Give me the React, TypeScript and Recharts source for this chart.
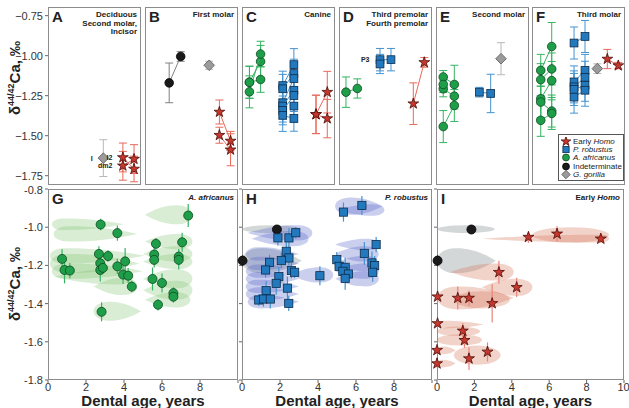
import React from 'react';
import { ScatterChart, Scatter, XAxis, YAxis, ErrorBar, ReferenceArea, LabelList, Symbols } from 'recharts';

const FONT = '"Liberation Sans", Arial, Helvetica, sans-serif';

type Sp = 'homo' | 'rob' | 'afr' | 'ind' | 'gor';
type Pt = [number, number, number, string?];
type Group = { sp: Sp; pts: Pt[] };

const SPECIES: Record<Sp, { shape: string; fill: string; edge: string; line: string }> = {
  homo: { shape: 'star', fill: '#c8372d', edge: '#4a0d08', line: '#e8695a' },
  rob: { shape: 'square', fill: '#2379bd', edge: '#0c2c4c', line: '#4593d0' },
  afr: { shape: 'circle', fill: '#1f9e4a', edge: '#0a4a1e', line: '#35b362' },
  ind: { shape: 'circle', fill: '#1a1a1a', edge: '#000000', line: '#808080' },
  gor: { shape: 'diamond', fill: '#9b9b9b', edge: '#555555', line: '#b8b8b8' },
};

// top row: x = slot inside the panel (0-10), y = δ44/42Ca, e = error, optional tooth label
const PANEL_A: Group[] = [
  { sp: 'gor', pts: [[5.95, -1.64, 0.115, 'I']] },
  { sp: 'homo', pts: [[8.05, -1.636, 0.09, 'I2'], [9.25, -1.708, 0.08]] },
  { sp: 'homo', pts: [[8.05, -1.688, 0.09, 'dm2'], [9.25, -1.646, 0.09]] },
];

const PANEL_B: Group[] = [
  { sp: 'ind', pts: [[2.6, -1.17, 0.124], [3.84, -1.005, 0.03]] },
  { sp: 'gor', pts: [[6.9, -1.06, 0.025]] },
  { sp: 'homo', pts: [[8.0, -1.352, 0.075], [9.2, -1.533, 0.06]] },
  { sp: 'homo', pts: [[8.0, -1.497, 0.05], [9.2, -1.588, 0.1]] },
];

const PANEL_C: Group[] = [
  { sp: 'afr', pts: [[0.8, -1.166, 0.1], [2.0, -1.036, 0.1]] },
  { sp: 'afr', pts: [[0.8, -1.226, 0.1], [2.0, -0.99, 0.08]] },
  { sp: 'afr', pts: [[0.8, -1.166, 0.1], [2.0, -1.149, 0.08]] },
  { sp: 'rob', pts: [[4.38, -1.187, 0.09], [5.58, -1.056, 0.1]] },
  { sp: 'rob', pts: [[4.38, -1.207, 0.09], [5.58, -1.112, 0.09]] },
  { sp: 'rob', pts: [[4.38, -1.294, 0.1], [5.58, -1.143, 0.1]] },
  { sp: 'rob', pts: [[4.38, -1.315, 0.1], [5.58, -1.216, 0.09]] },
  { sp: 'rob', pts: [[4.38, -1.342, 0.09], [5.58, -1.249, 0.1]] },
  { sp: 'rob', pts: [[4.38, -1.373, 0.1], [5.58, -1.392, 0.08]] },
  { sp: 'rob', pts: [[5.58, -1.315, 0.1]] },
  { sp: 'homo', pts: [[7.96, -1.367, 0.12], [9.17, -1.228, 0.13]] },
  { sp: 'homo', pts: [[7.96, -1.367, 0.12], [9.17, -1.393, 0.12]] },
];

const PANEL_D: Group[] = [
  { sp: 'afr', pts: [[0.75, -1.228, 0.095], [1.97, -1.205, 0.06]] },
  { sp: 'rob', pts: [[4.41, -1.025, 0.07, 'P3'], [5.59, -1.025, 0.07]] },
  { sp: 'rob', pts: [[4.41, -1.052, 0.06]] },
  { sp: 'homo', pts: [[7.99, -1.3, 0.13], [9.17, -1.042, 0.03]] },
];

const PANEL_E: Group[] = [
  { sp: 'afr', pts: [[0.78, -1.133, 0.04], [1.97, -1.18, 0.12]] },
  { sp: 'afr', pts: [[0.78, -1.207, 0.05], [1.97, -1.253, 0.08]] },
  { sp: 'afr', pts: [[0.78, -1.443, 0.1], [1.97, -1.311, 0.1]] },
  { sp: 'afr', pts: [[0.78, -1.18, 0.05]] },
  { sp: 'rob', pts: [[4.66, -1.228, 0.03], [5.88, -1.236, 0.12]] },
  { sp: 'gor', pts: [[6.99, -1.019, 0.1]] },
];

const PANEL_F: Group[] = [
  { sp: 'afr', pts: [[0.94, -1.092, 0.1], [2.12, -0.943, 0.15]] },
  { sp: 'afr', pts: [[0.94, -1.15, 0.1], [2.12, -1.083, 0.1]] },
  { sp: 'afr', pts: [[0.94, -1.269, 0.12], [2.12, -1.156, 0.12]] },
  { sp: 'afr', pts: [[0.94, -1.29, 0.1], [2.12, -1.346, 0.1]] },
  { sp: 'afr', pts: [[0.94, -1.404, 0.1], [2.12, -1.361, 0.1]] },
  { sp: 'rob', pts: [[4.52, -0.921, 0.1], [5.7, -0.88, 0.1]] },
  { sp: 'rob', pts: [[4.52, -1.164, 0.1], [5.7, -1.092, 0.1]] },
  { sp: 'rob', pts: [[4.52, -1.195, 0.1], [5.7, -1.135, 0.1]] },
  { sp: 'rob', pts: [[4.52, -1.211, 0.1], [5.7, -1.185, 0.1]] },
  { sp: 'rob', pts: [[4.52, -1.259, 0.1], [5.7, -1.216, 0.1]] },
  { sp: 'gor', pts: [[7.02, -1.081, 0.03]] },
  { sp: 'homo', pts: [[8.1, -1.021, 0.06], [9.28, -1.062, 0.02]] },
];

const TOP_TICKS = [-0.75, -1.0, -1.25, -1.5, -1.75];

// bottom row: dental age (years), δ44/42Ca, error
const G_AFR: Pt[] = [
  [0.74, -1.166, 0.05], [0.87, -1.224, 0.07], [1.15, -1.227, 0.04], [2.77, -0.986, 0.03],
  [2.68, -1.14, 0.04], [2.75, -1.189, 0.04], [2.75, -1.224, 0.06], [2.89, -1.213, 0.03],
  [3.16, -1.151, 0.03], [3.65, -1.031, 0.04], [3.65, -1.205, 0.04], [4.06, -1.179, 0.07],
  [3.95, -1.248, 0.05], [4.22, -1.254, 0.04], [4.41, -1.311, 0.03], [2.82, -1.443, 0.05],
  [5.5, -1.271, 0.06], [5.59, -1.143, 0.04], [5.59, -1.171, 0.04], [5.68, -1.087, 0.03],
  [6.0, -1.292, 0.05], [5.79, -1.406, 0.03], [6.6, -1.345, 0.03], [6.6, -1.364, 0.03],
  [7.38, -0.939, 0.06], [7.06, -1.079, 0.05], [6.88, -1.154, 0.04], [6.88, -1.171, 0.05],
];

const H_ROB: Pt[] = [
  [6.31, -0.886, 0.05], [5.34, -0.921, 0.05], [1.89, -1.056, 0.04], [2.47, -1.056, 0.05],
  [2.83, -1.029, 0.03], [2.33, -1.126, 0.05], [2.47, -1.161, 0.04], [1.45, -1.184, 0.04],
  [2.07, -1.175, 0.04], [1.24, -1.224, 0.04], [2.6, -1.227, 0.04], [2.77, -1.236, 0.03],
  [1.94, -1.259, 0.05], [1.8, -1.294, 0.06], [1.27, -1.332, 0.05], [2.39, -1.319, 0.06],
  [0.88, -1.381, 0.03], [1.13, -1.376, 0.04], [1.49, -1.376, 0.05], [2.46, -1.399, 0.04],
  [4.1, -1.254, 0.05], [4.99, -1.17, 0.04], [5.11, -1.205, 0.05], [5.43, -1.21, 0.05],
  [5.31, -1.231, 0.05], [5.6, -1.245, 0.04], [5.43, -1.268, 0.06], [6.44, -1.137, 0.06],
  [7.06, -1.091, 0.04], [6.84, -1.187, 0.06], [6.98, -1.201, 0.05], [6.88, -1.236, 0.05],
];

const IND_PTS: Pt[] = [[1.84, -1.012, 0.02], [0.03, -1.175, 0.03]];

const I_HOMO: Pt[] = [
  [4.89, -1.052, 0.03], [6.42, -1.035, 0.04], [8.76, -1.061, 0.02], [3.31, -1.236, 0.06],
  [4.26, -1.315, 0.05], [0.03, -1.364, 0.03], [1.11, -1.371, 0.06], [1.71, -1.371, 0.04],
  [2.95, -1.399, 0.1], [0.03, -1.504, 0.02], [1.38, -1.543, 0.04], [1.47, -1.592, 0.04],
  [0.0, -1.644, 0.02], [2.7, -1.653, 0.05], [1.71, -1.688, 0.06], [0.0, -1.714, 0.02],
];

// formation ranges: start age, end age, δ44/42Ca centre, half-height, pointed end
type Blob = [number, number, number, number, 'l' | 'r' | 'e'];

const G_BLOBS: Blob[] = [
  [0.2, 4.0, -0.985, 0.03, 'r'], [0.3, 4.7, -1.035, 0.04, 'r'],
  [0.1, 5.1, -1.15, 0.04, 'r'], [0.1, 4.8, -1.19, 0.05, 'r'], [0.2, 5.0, -1.23, 0.04, 'r'],
  [0.3, 4.5, -1.26, 0.04, 'l'], [2.4, 4.7, -1.31, 0.045, 'l'], [2.4, 4.9, -1.44, 0.05, 'r'],
  [5.1, 7.6, -0.935, 0.05, 'l'], [5.1, 7.6, -1.075, 0.04, 'l'], [5.0, 7.6, -1.14, 0.04, 'l'],
  [5.0, 7.6, -1.18, 0.04, 'l'], [5.0, 7.6, -1.27, 0.05, 'l'], [5.0, 7.6, -1.33, 0.05, 'l'],
  [5.1, 7.5, -1.38, 0.04, 'l'],
];

const H_BLOBS: Blob[] = [
  [4.9, 7.4, -0.89, 0.045, 'r'], [5.0, 7.5, -0.91, 0.03, 'l'],
  [0.3, 3.7, -1.03, 0.04, 'l'], [0.5, 3.5, -1.06, 0.04, 'l'],
  [0.2, 3.0, -1.14, 0.035, 'r'], [0.2, 3.0, -1.19, 0.035, 'r'], [0.2, 3.0, -1.23, 0.035, 'r'],
  [0.2, 3.0, -1.27, 0.035, 'r'], [0.2, 3.0, -1.31, 0.035, 'r'], [0.2, 3.0, -1.35, 0.035, 'r'],
  [0.3, 3.0, -1.39, 0.035, 'r'], [2.6, 4.8, -1.25, 0.04, 'l'],
  [4.9, 7.2, -1.09, 0.03, 'l'], [4.9, 7.2, -1.14, 0.04, 'l'], [4.9, 7.2, -1.19, 0.04, 'l'],
  [4.9, 7.2, -1.23, 0.04, 'l'], [4.9, 7.2, -1.27, 0.04, 'l'],
];

const IND_BLOBS: Blob[] = [
  [0.0, 3.1, -1.01, 0.02, 'e'], [0.0, 3.15, -1.175, 0.065, 'r'],
];

const I_BLOBS: Blob[] = [
  [5.1, 9.2, -1.04, 0.04, 'e'], [2.4, 9.2, -1.06, 0.02, 'l'],
  [0.7, 4.1, -1.235, 0.045, 'l'], [2.4, 5.1, -1.315, 0.045, 'l'],
  [0.0, 4.1, -1.37, 0.06, 'r'], [0.9, 3.9, -1.38, 0.045, 'e'],
  [0.0, 2.5, -1.51, 0.02, 'r'], [0.0, 2.3, -1.545, 0.025, 'e'], [0.0, 2.4, -1.59, 0.03, 'e'],
  [0.0, 1.0, -1.645, 0.02, 'r'], [0.9, 3.4, -1.67, 0.05, 'e'], [0.0, 1.0, -1.714, 0.02, 'r'],
];

const BOT_TICKS = [-1.8, -1.6, -1.4, -1.2, -1.0, -0.8];
const AGE_TICKS = [0, 2, 4, 6, 8, 10];

const TOP_X = [48, 145, 242, 339, 436, 532];
const TOP_W = 93;
const TOP_Y = 7;
const TOP_H = 178;
const BOT = [
  { x: 48, w: 190 },
  { x: 242, w: 190 },
  { x: 437, w: 187 },
];
const BOT_Y = 189;
const BOT_H = 191;

const toRows = (pts: Pt[]) => pts.map(([x, y, e, lab]) => ({ x, y, e, lab }));

const mark = (sp: Sp, k = 1) => (p: any) => {
  const { cx, cy } = p;
  const s = SPECIES[sp];
  if (cx == null || cy == null) return <g />;
  if (s.shape === 'circle') {
    return <circle cx={cx} cy={cy} r={4.3 * k} fill={s.fill} stroke={s.edge} strokeWidth={0.8} />;
  }
  if (s.shape === 'square') {
    const h = 3.9 * k;
    return <rect x={cx - h} y={cy - h} width={2 * h} height={2 * h} fill={s.fill} stroke={s.edge} strokeWidth={0.8} />;
  }
  if (s.shape === 'diamond') {
    const h = 5.3 * k;
    return (
      <polygon
        points={`${cx},${cy - h} ${cx + h},${cy} ${cx},${cy + h} ${cx - h},${cy}`}
        fill={s.fill}
        stroke={s.edge}
        strokeWidth={0.8}
      />
    );
  }
  return <Symbols cx={cx} cy={cy} type="star" size={36 * k} fill={s.fill} stroke={s.edge} strokeWidth={0.8} />;
};

const blobShape = (tip: string, fill: string) => (p: any) => {
  const { x, y, width: w, height: h } = p;
  if (x == null || !w || !h) return <g />;
  const cy = y + h / 2;
  if (tip === 'e') {
    return <ellipse cx={x + w / 2} cy={cy} rx={w / 2} ry={h / 2} fill={fill} />;
  }
  const r = Math.min(w * 0.3, h * 0.9);
  let d;
  if (tip === 'r') {
    const a = x + r;
    d = `M ${x + w} ${cy} C ${a + (w - r) * 0.5} ${y}, ${a + (w - r) * 0.2} ${y}, ${a} ${y} ` +
      `A ${r} ${h / 2} 0 0 0 ${a} ${y + h} ` +
      `C ${a + (w - r) * 0.2} ${y + h}, ${a + (w - r) * 0.5} ${y + h}, ${x + w} ${cy} Z`;
  } else {
    const a = x + w - r;
    d = `M ${x} ${cy} C ${x + (w - r) * 0.5} ${y}, ${x + (w - r) * 0.8} ${y}, ${a} ${y} ` +
      `A ${r} ${h / 2} 0 0 1 ${a} ${y + h} ` +
      `C ${x + (w - r) * 0.8} ${y + h}, ${x + (w - r) * 0.5} ${y + h}, ${x} ${cy} Z`;
  }
  return <path d={d} fill={fill} />;
};

const abs = (left: number, top: number, extra: React.CSSProperties = {}): React.CSSProperties => ({
  position: 'absolute',
  left,
  top,
  ...extra,
});

function Box({ x, y, w, h }: { x: number; y: number; w: number; h: number }) {
  return <div style={abs(x, y, { width: w, height: h, border: '1.3px solid #8c8c8c', boxSizing: 'border-box' })} />;
}

function TopPanel({ i, groups, letter, title, axis }: { i: number; groups: Group[]; letter: string; title: string[]; axis?: boolean }) {
  const x0 = TOP_X[i];
  const yw = axis ? 48 : 0;
  return (
    <>
      <Box x={x0} y={TOP_Y} w={TOP_W} h={TOP_H} />
      <div style={abs(x0 - yw, TOP_Y)}>
        <ScatterChart width={TOP_W + yw} height={TOP_H} margin={{ top: 0, right: 0, bottom: 0, left: 0 }}>
          <XAxis type="number" dataKey="x" domain={[0, 10]} hide />
          <YAxis
            type="number"
            dataKey="y"
            domain={[-1.808, -0.696]}
            allowDataOverflow
            hide={!axis}
            width={yw}
            ticks={TOP_TICKS}
            tickSize={3}
            axisLine={false}
            tickLine={{ stroke: '#666' }}
            tick={{ fontSize: 11, fill: '#333' }}
            tickFormatter={(v: number) => '\u2212' + Math.abs(v).toFixed(2)}
          />
          {groups.map((g, k) => {
            const s = SPECIES[g.sp];
            return (
              <Scatter
                key={k}
                data={toRows(g.pts)}
                isAnimationActive={false}
                shape={mark(g.sp)}
                line={g.pts.length > 1 ? { stroke: s.line, strokeWidth: 1 } : false}
                lineType="joint"
              >
                <ErrorBar dataKey="e" direction="y" width={4} stroke={s.line} strokeWidth={1} />
                <LabelList dataKey="lab" position="left" offset={6} style={{ fontSize: 7, fontWeight: 700, fill: '#222' }} />
              </Scatter>
            );
          })}
        </ScatterChart>
      </div>
      <div style={abs(x0 + 4, TOP_Y + 1, { fontSize: 15, fontWeight: 700, color: '#222' })}>{letter}</div>
      <div
        style={abs(x0, TOP_Y + 4, {
          width: TOP_W - 4,
          textAlign: 'right',
          fontSize: 8,
          fontWeight: 700,
          lineHeight: '8.6px',
          color: '#222',
        })}
      >
        {title.map((t) => (
          <div key={t}>{t}</div>
        ))}
      </div>
    </>
  );
}

type Layer = { pts: Pt[]; sp: Sp; err: string };

function BottomPanel({
  j,
  blobs,
  layers,
  letter,
  title,
  axis,
}: {
  j: number;
  blobs: { list: Blob[]; fill: string }[];
  layers: Layer[];
  letter: string;
  title: React.ReactNode;
  axis?: boolean;
}) {
  const b = BOT[j];
  const lw = axis ? 48 : 5;
  return (
    <>
      <Box x={b.x} y={BOT_Y} w={b.w} h={BOT_H} />
      <div style={abs(b.x - lw, BOT_Y - 5)}>
        <ScatterChart width={b.w + lw + 5} height={BOT_H + 5 + 14} margin={{ top: 0, right: 0, bottom: 0, left: 0 }}>
          <XAxis
            xAxisId="top"
            orientation="top"
            type="number"
            domain={[0, 10]}
            ticks={AGE_TICKS}
            height={5}
            tickSize={3}
            axisLine={false}
            tickLine={{ stroke: '#666' }}
            tickFormatter={() => ''}
          />
          <XAxis
            type="number"
            dataKey="x"
            domain={[0, 10]}
            ticks={AGE_TICKS}
            height={14}
            tickSize={3}
            tickMargin={0}
            axisLine={false}
            tickLine={{ stroke: '#666' }}
            tick={{ fontSize: 11, fill: '#333' }}
            tickFormatter={(v: number) => (j < 2 && v === 10 ? '' : String(v))}
          />
          <YAxis
            type="number"
            dataKey="y"
            domain={[-1.8, -0.8]}
            ticks={BOT_TICKS}
            width={lw}
            tickSize={3}
            axisLine={false}
            tickLine={{ stroke: '#666' }}
            tick={{ fontSize: 11, fill: '#333' }}
            tickFormatter={(v: number) => (axis ? v.toFixed(1) : '')}
          />
          <YAxis
            yAxisId="r"
            orientation="right"
            type="number"
            domain={[-1.8, -0.8]}
            ticks={BOT_TICKS}
            width={5}
            tickSize={3}
            axisLine={false}
            tickLine={{ stroke: '#666' }}
            tickFormatter={() => ''}
          />
          {blobs.flatMap((set, si) =>
            set.list.map((bl, k) => (
              <ReferenceArea
                key={`${si}-${k}`}
                x1={bl[0]}
                x2={bl[1]}
                y1={bl[2] - bl[3]}
                y2={bl[2] + bl[3]}
                ifOverflow="visible"
                shape={blobShape(bl[4], set.fill)}
              />
            )),
          )}
          {layers.map((l, k) => (
            <Scatter key={k} data={toRows(l.pts)} isAnimationActive={false} shape={mark(l.sp, 1.05)}>
              <ErrorBar dataKey="e" direction="y" width={0} stroke={l.err} strokeWidth={1.2} />
            </Scatter>
          ))}
        </ScatterChart>
      </div>
      <div style={abs(b.x + 4, BOT_Y + 1, { fontSize: 15, fontWeight: 700, color: '#222' })}>{letter}</div>
      <div style={abs(b.x, BOT_Y + 4, { width: b.w - 4, textAlign: 'right', fontSize: 8, fontWeight: 700, color: '#222' })}>
        {title}
      </div>
      <div
        style={abs(b.x, 394, {
          width: b.w,
          textAlign: 'center',
          fontSize: 15,
          lineHeight: '14px',
          fontWeight: 700,
          color: '#222',
          whiteSpace: 'nowrap',
        })}
      >
        Dental age, years
      </div>
    </>
  );
}

function YTitle({ cy }: { cy: number }) {
  return (
    <div
      style={abs(14, cy, {
        transform: 'translate(-50%, -50%) rotate(-90deg)',
        whiteSpace: 'nowrap',
        fontSize: 15,
        fontWeight: 700,
        color: '#222',
      })}
    >
      δ<sup style={{ fontSize: 9 }}>44/42</sup>Ca, ‰
    </div>
  );
}

const LEGEND: { sp: Sp; label: React.ReactNode }[] = [
  { sp: 'homo', label: <>Early <i>Homo</i></> },
  { sp: 'rob', label: <i>P. robustus</i> },
  { sp: 'afr', label: <i>A. africanus</i> },
  { sp: 'ind', label: 'Indeterminate' },
  { sp: 'gor', label: <i>G. gorilla</i> },
];

function LegendBox() {
  return (
    <div
      style={abs(558, 134, {
        width: 66,
        height: 47,
        border: '1px solid #555',
        boxSizing: 'border-box',
        background: '#fff',
        padding: '2px 0 0 2px',
      })}
    >
      {LEGEND.map((l) => (
        <div key={l.sp} style={{ display: 'flex', alignItems: 'center', height: 8.3, fontSize: 8, color: '#222', whiteSpace: 'nowrap' }}>
          <svg width={10} height={9} style={{ marginRight: 2 }}>
            {mark(l.sp, 0.8)({ cx: 5, cy: 4.5 })}
          </svg>
          <span>{l.label}</span>
        </div>
      ))}
    </div>
  );
}

export default function App() {
  const green = 'rgba(120, 190, 100, 0.28)';
  const blue = 'rgba(80, 95, 200, 0.3)';
  const red = 'rgba(215, 120, 95, 0.33)';
  const grey = 'rgba(150, 160, 160, 0.42)';
  return (
    <div
      style={{
        position: 'absolute',
        left: 0,
        top: 0,
        width: 629,
        height: 408,
        background: '#fff',
        fontFamily: FONT,
        overflow: 'hidden',
      }}
    >
      <YTitle cy={78} />
      <YTitle cy={284} />
      <TopPanel i={0} groups={PANEL_A} letter="A" title={['Deciduous', 'Second molar,', 'Incisor']} axis />
      <TopPanel i={1} groups={PANEL_B} letter="B" title={['First molar']} />
      <TopPanel i={2} groups={PANEL_C} letter="C" title={['Canine']} />
      <TopPanel i={3} groups={PANEL_D} letter="D" title={['Third premolar', 'Fourth premolar']} />
      <TopPanel i={4} groups={PANEL_E} letter="E" title={['Second molar']} />
      <TopPanel i={5} groups={PANEL_F} letter="F" title={['Third molar']} />
      <LegendBox />
      <BottomPanel
        j={0}
        axis
        letter="G"
        title={<i>A. africanus</i>}
        blobs={[{ list: G_BLOBS, fill: green }]}
        layers={[{ pts: G_AFR, sp: 'afr', err: '#35b362' }]}
      />
      <BottomPanel
        j={1}
        letter="H"
        title={<i>P. robustus</i>}
        blobs={[
          { list: IND_BLOBS, fill: grey },
          { list: H_BLOBS, fill: blue },
        ]}
        layers={[
          { pts: IND_PTS, sp: 'ind', err: '#444' },
          { pts: H_ROB, sp: 'rob', err: '#4593d0' },
        ]}
      />
      <BottomPanel
        j={2}
        letter="I"
        title={<>Early <i>Homo</i></>}
        blobs={[
          { list: IND_BLOBS, fill: grey },
          { list: I_BLOBS, fill: red },
        ]}
        layers={[
          { pts: IND_PTS, sp: 'ind', err: '#444' },
          { pts: I_HOMO, sp: 'homo', err: '#e8857a' },
        ]}
      />
    </div>
  );
}
